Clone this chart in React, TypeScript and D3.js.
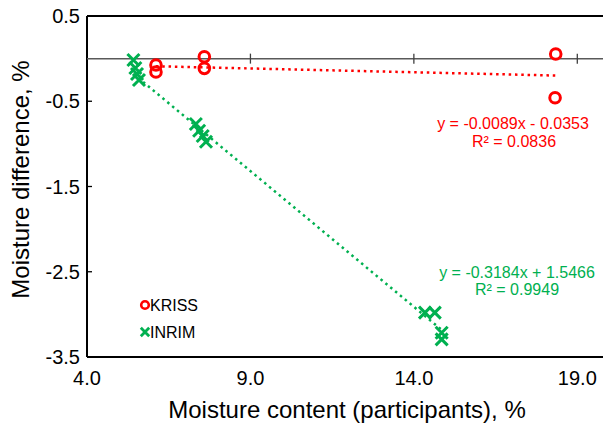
import React from "react";
import * as d3 from "d3";

const W = 603;
const H = 427;

const xTicks = [4, 9, 14, 19];
const yTicks = [0.5, -0.5, -1.5, -2.5, -3.5];

const krissX = [6.11, 6.11, 7.59, 7.59, 18.34, 18.32];
const krissY = [-0.075, -0.157, 0.022, -0.114, 0.054, -0.459];

const inrimX = [5.42, 5.48, 5.53, 5.59, 7.33, 7.43, 7.54, 7.64, 14.34, 14.64, 14.85, 14.85];
const inrimY = [-0.016, -0.11, -0.181, -0.251, -0.767, -0.846, -0.908, -0.975, -2.98, -2.98, -3.216, -3.293];

const seriesNames = ["KRISS", "INRIM"];
const seriesColors = ["#FF0000", "#00B050"];
const trendSlope = [-0.0089, -0.3184];
const trendIntercept = [-0.0353, 1.5466];
const trendLine1 = ["y = -0.0089x - 0.0353", "y = -0.3184x + 1.5466"];
const trendLine2 = ["R² = 0.0836", "R² = 0.9949"];

const FONT = "'Liberation Sans', Arial, sans-serif";

export default function App() {
  const left = 87;
  const top = 16;
  const bottom = 357;
  const x = d3.scaleLinear().domain([4, 19]).range([left, 577.3]);
  const y = d3.scaleLinear().domain([0.5, -3.5]).range([top, bottom]);
  const right = x(20);

  const series = [
    { xs: krissX, ys: krissY },
    { xs: inrimX, ys: inrimY },
  ];

  const trendPaths = series.map((s, i) => {
    const [x0, x1] = d3.extent(s.xs) as [number, number];
    const line = d3
      .line<number>()
      .x((v) => x(v))
      .y((v) => y(trendSlope[i] * v + trendIntercept[i]));
    return line([x0, x1]) || "";
  });

  const circle = (cx: number, cy: number, r: number, color: string, key: string, sw = 3) => (
    <circle key={key} cx={cx} cy={cy} r={r} fill="none" stroke={color} strokeWidth={sw} />
  );
  const cross = (cx: number, cy: number, h: number, color: string, key: string, sw = 3) => (
    <path
      key={key}
      d={`M${cx - h},${cy - h}L${cx + h},${cy + h}M${cx - h},${cy + h}L${cx + h},${cy - h}`}
      stroke={color}
      strokeWidth={sw}
      fill="none"
    />
  );

  return (
    <svg
      width={W}
      height={H}
      style={{ position: "absolute", left: 0, top: 0, display: "block", background: "#fff" }}
      fontFamily={FONT}
    >
      {/* plot border */}
      <line x1={left} x2={right} y1={top} y2={top} stroke="#000" strokeWidth={2} />
      <line x1={left} x2={right} y1={bottom} y2={bottom} stroke="#000" strokeWidth={2} />
      <line x1={left} x2={left} y1={top} y2={bottom} stroke="#000" strokeWidth={2} />

      {/* zero line with ticks */}
      <line x1={left} x2={right} y1={y(0)} y2={y(0)} stroke="#595959" strokeWidth={1.5} />
      {xTicks.slice(1).map((t) => (
        <line key={"zt" + t} x1={x(t)} x2={x(t)} y1={y(0) - 5} y2={y(0) + 5} stroke="#404040" strokeWidth={1.3} />
      ))}

      {/* y ticks */}
      {yTicks.map((t) => (
        <line key={"yt" + t} x1={left} x2={left + 5} y1={y(t)} y2={y(t)} stroke="#000" strokeWidth={1.3} />
      ))}
      {yTicks.map((t) => (
        <text key={"yl" + t} x={80} y={y(t)} textAnchor="end" dominantBaseline="central" fontSize={20} fill="#000">
          {t.toFixed(1)}
        </text>
      ))}
      {xTicks.map((t) => (
        <text key={"xl" + t} x={x(t)} y={385} textAnchor="middle" fontSize={20} fill="#000">
          {t.toFixed(1)}
        </text>
      ))}

      {/* axis titles */}
      <text x={347} y={418} textAnchor="middle" fontSize={24} fill="#000">
        Moisture content (participants), %
      </text>
      <text
        transform={`translate(20,${(57 + 302) / 2}) rotate(-90)`}
        textAnchor="middle"
        dominantBaseline="central"
        fontSize={24}
        fill="#000"
      >
        Moisture difference, %
      </text>

      {/* trend lines */}
      {trendPaths.map((d, i) => (
        <path key={"tr" + i} d={d} stroke={seriesColors[i]} strokeWidth={2.5} strokeDasharray="2.5 3.8" fill="none" />
      ))}

      {/* points */}
      {krissX.map((v, i) => circle(x(v), y(krissY[i]), 5.3, seriesColors[0], "k" + i))}
      {inrimX.map((v, i) => cross(x(v), y(inrimY[i]), 6, seriesColors[1], "n" + i))}

      {/* trend labels */}
      <text x={513} y={123} textAnchor="middle" dominantBaseline="central" fontSize={16} fill={seriesColors[0]}>
        {trendLine1[0]}
      </text>
      <text x={514} y={141} textAnchor="middle" dominantBaseline="central" fontSize={16} fill={seriesColors[0]}>
        {trendLine2[0]}
      </text>
      <text x={517} y={272} textAnchor="middle" dominantBaseline="central" fontSize={16} fill={seriesColors[1]}>
        {trendLine1[1]}
      </text>
      <text x={517} y={289} textAnchor="middle" dominantBaseline="central" fontSize={16} fill={seriesColors[1]}>
        {trendLine2[1]}
      </text>

      {/* legend */}
      {circle(145, 305, 3.8, seriesColors[0], "lk", 2.6)}
      {cross(145, 332, 4.2, seriesColors[1], "ln", 2.8)}
      {seriesNames.map((n, i) => (
        <text key={"lg" + n} x={150} y={i === 0 ? 305 : 332} dominantBaseline="central" fontSize={16} fill="#000">
          {n}
        </text>
      ))}
    </svg>
  );
}
